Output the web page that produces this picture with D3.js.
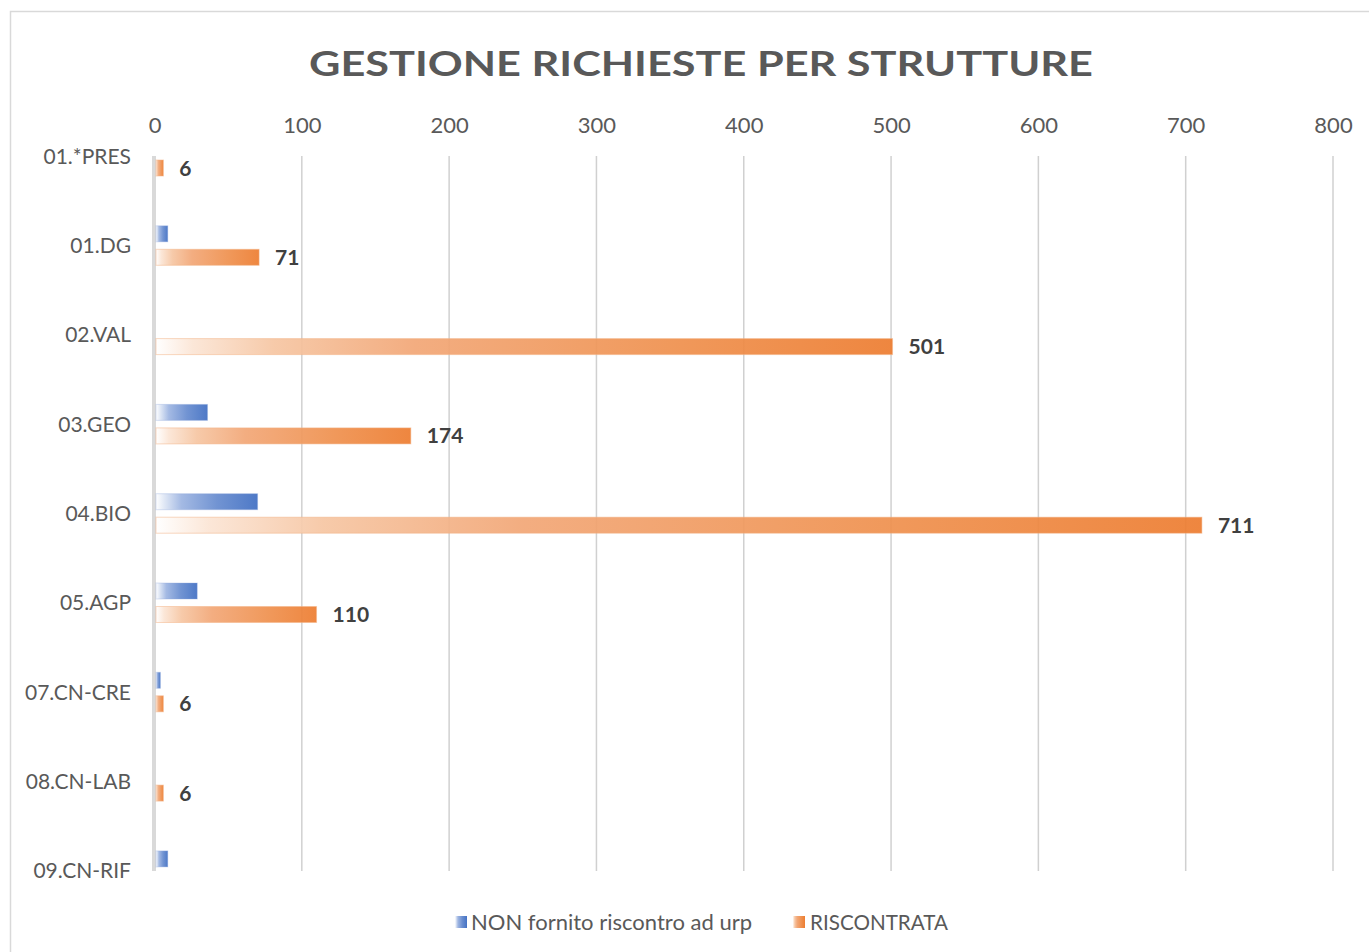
<!DOCTYPE html>
<html>
<head>
<meta charset="utf-8">
<script src="https://cdn.jsdelivr.net/npm/d3@7"></script>
<style>
  html, body { margin: 0; padding: 0; background: #ffffff; }
  svg { display: block; }
  text { font-family: Lato, "Open Sans", "Liberation Sans", sans-serif; }
</style>
</head>
<body>
<svg id="chart" width="1369" height="952"></svg>
<script>
// Strutture (categorie)
const categories = ["01.*PRES", "01.DG", "02.VAL", "03.GEO", "04.BIO", "05.AGP", "07.CN-CRE", "08.CN-LAB", "09.CN-RIF"];
// Serie: richieste senza riscontro all'URP
const nonFornito = [0, 9, 0, 36, 70, 29, 4, 0, 9];
// Serie: richieste riscontrate
const riscontrata = [6, 71, 501, 174, 711, 110, 6, 6, 0];
// Etichette dell'asse dei valori
const xTicks = [0, 100, 200, 300, 400, 500, 600, 700, 800];
const seriesNames = ["NON fornito riscontro ad urp", "RISCONTRATA"];

const svg = d3.select("#chart");

const x = d3.scaleLinear().domain([0, 800]).range([154.5, 1333]);
const y = d3.scalePoint().domain(categories).range([156, 870.4]);

// Gradienti orizzontali delle barre
const defs = svg.append("defs");
function gradient(id, stops) {
  const g = defs.append("linearGradient").attr("id", id)
    .attr("x1", "0").attr("y1", "0").attr("x2", "1").attr("y2", "0");
  stops.forEach(([o, c]) => g.append("stop").attr("offset", o).attr("stop-color", c));
}
gradient("gBlue", [[0, "#ffffff"], [0.08, "#dfe7f5"], [0.25, "#9fb6e2"], [0.6, "#6a8ed0"], [1, "#4472c4"]]);
gradient("gOrange", [[0, "#ffffff"], [0.05, "#fbe5d5"], [0.16, "#f6c6a3"], [0.35, "#f2a777"], [0.7, "#ef914f"], [1, "#ed7d31"]]);

// Cornice del grafico
svg.append("rect")
  .attr("x", 10.5).attr("y", 11.5)
  .attr("width", 1400).attr("height", 1000)
  .attr("fill", "#ffffff")
  .attr("stroke", "#d9d9d9").attr("stroke-width", 1.5);

// Titolo
svg.append("text")
  .attr("x", 701).attr("y", 76)
  .attr("text-anchor", "middle")
  .attr("font-size", 34).attr("font-weight", 700)
  .attr("fill", "#595959")
  .attr("textLength", 784).attr("lengthAdjust", "spacingAndGlyphs")
  .text("GESTIONE RICHIESTE PER STRUTTURE");

// Griglia verticale
const yTop = 156, yBottom = 871;
svg.append("g").selectAll("line")
  .data(xTicks.filter(d => d > 0))
  .join("line")
  .attr("x1", d => x(d)).attr("x2", d => x(d))
  .attr("y1", yTop).attr("y2", yBottom)
  .attr("stroke", "#d0d0d0").attr("stroke-width", 1.5);

// Asse dei valori (in alto)
const xAxis = d3.axisTop(x).tickValues(xTicks).tickSize(0).tickPadding(0);
const gx = svg.append("g").attr("transform", "translate(0,133)").call(xAxis);
gx.select(".domain").remove();
gx.selectAll("text")
  .attr("font-size", 22).attr("fill", "#595959")
  .style("font-family", "Lato, 'Open Sans', sans-serif");

// Asse delle categorie
svg.append("line")
  .attr("x1", 154).attr("x2", 154)
  .attr("y1", yTop).attr("y2", yBottom)
  .attr("stroke", "#d9d9d9").attr("stroke-width", 4);

const yAxis = d3.axisLeft(y).tickSize(0).tickPadding(0);
const gy = svg.append("g").attr("transform", "translate(131,0)").call(yAxis);
gy.select(".domain").remove();
gy.selectAll("text")
  .attr("font-size", 21).attr("fill", "#595959")
  .attr("dy", "0.35em")
  .style("font-family", "Lato, 'Open Sans', sans-serif");

// Barre
const barH = 16;
const rows = categories.map((c, i) => ({ c, blue: nonFornito[i], orange: riscontrata[i] }));

svg.append("g").selectAll("rect")
  .data(rows.filter(d => d.blue > 0))
  .join("rect")
  .attr("x", x(0) + 1.5)
  .attr("y", d => y(d.c) - 11.5 - barH / 2)
  .attr("width", d => x(d.blue) - x(0) - 1.5)
  .attr("height", barH)
  .attr("fill", "url(#gBlue)")
  .attr("fill-opacity", 0.95)
  .attr("stroke", "#8faadc").attr("stroke-opacity", 0.35).attr("stroke-width", 1);

svg.append("g").selectAll("rect")
  .data(rows.filter(d => d.orange > 0))
  .join("rect")
  .attr("x", x(0) + 1.5)
  .attr("y", d => y(d.c) + 12 - barH / 2)
  .attr("width", d => x(d.orange) - x(0) - 1.5)
  .attr("height", barH)
  .attr("fill", "url(#gOrange)")
  .attr("fill-opacity", 0.93)
  .attr("stroke", "#f4b183").attr("stroke-opacity", 0.5).attr("stroke-width", 1);

// Etichette dei valori
svg.append("g").selectAll("text")
  .data(rows.filter(d => d.orange > 0))
  .join("text")
  .attr("x", d => x(d.orange) + 16)
  .attr("y", d => y(d.c) + 12)
  .attr("dy", "0.36em")
  .attr("font-size", 21).attr("font-weight", 700)
  .attr("fill", "#404040")
  .text(d => d.orange);

// Legenda
const legend = svg.append("g");
const legendItems = [
  { name: seriesNames[0], fill: "url(#gBlue)", sx: 455, tx: 471, w: 281 },
  { name: seriesNames[1], fill: "url(#gOrange)", sx: 793, tx: 810, w: 138 }
];
legendItems.forEach(it => {
  legend.append("rect")
    .attr("x", it.sx).attr("y", 916).attr("width", 12).attr("height", 12)
    .attr("fill", it.fill);
  legend.append("text")
    .attr("x", it.tx).attr("y", 922)
    .attr("dy", "0.36em")
    .attr("font-size", 22).attr("fill", "#595959")
    .attr("textLength", it.w).attr("lengthAdjust", "spacingAndGlyphs")
    .text(it.name);
});
</script>
</body>
</html>
